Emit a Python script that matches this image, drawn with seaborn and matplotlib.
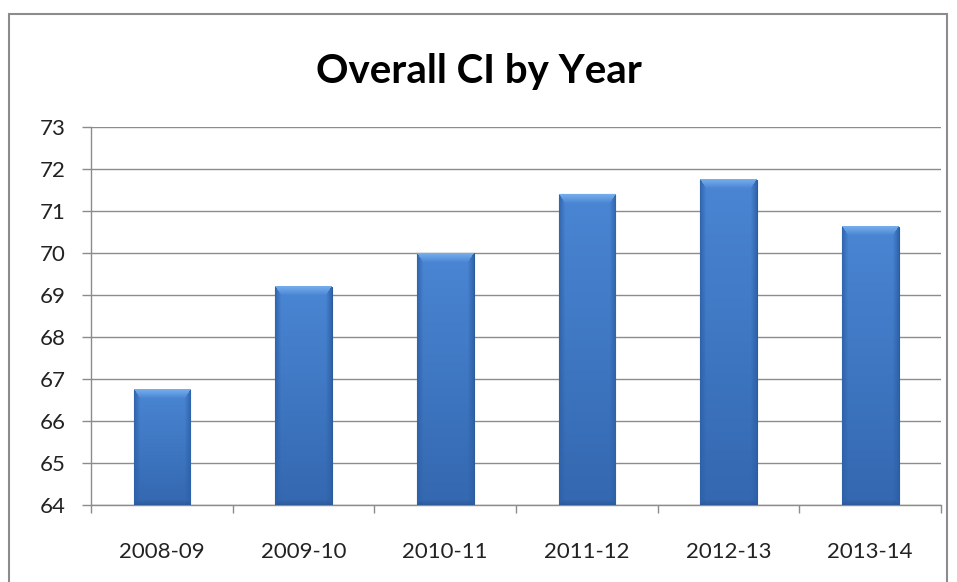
import numpy as np
import pandas as pd
import matplotlib
matplotlib.use("Agg")
import matplotlib.pyplot as plt
import seaborn as sns
from matplotlib.patches import Rectangle
from matplotlib.colors import to_rgb

years = ["2008-09", "2009-10", "2010-11", "2011-12", "2012-13", "2013-14"]
ci_values = [66.74, 69.2, 70.0, 71.4, 71.75, 70.62]
y_ticks = [64, 65, 66, 67, 68, 69, 70, 71, 72, 73]
title = "Overall CI by Year"

sns.set_theme(style="white")
plt.rcParams['font.family'] = ['Lato', 'DejaVu Sans']

df = pd.DataFrame({"year": years, "ci": ci_values})

fig = plt.figure(figsize=(9.57, 5.82), dpi=100)
ax = fig.add_axes([91/957, 1 - 505/582, (941 - 91)/957, (505 - 127)/582])

sns.barplot(data=df, x="year", y="ci", ax=ax, width=0.4, color="#3F7AC6",
            saturation=1, edgecolor="#2E5C99", linewidth=0.8, zorder=3)

ymin, ymax = 64, 73
ax.set_ylim(ymin, ymax)
ax.set_xlim(-0.5, len(years) - 0.5)


def bevel_image(wpx, hpx):
    top_c = np.array(to_rgb("#4A86D4"))
    bot_c = np.array(to_rgb("#3468B0"))
    t = np.linspace(0, 1, hpx).reshape(-1, 1, 1)
    img = top_c * (1 - t) + bot_c * t
    img = np.repeat(img, wpx, axis=1)
    rr, cc = np.mgrid[0:hpx, 0:wpx]
    side = 6
    topb = 9
    botb = 6
    light = np.array(to_rgb("#7DB3F0"))
    dark_side = np.array(to_rgb("#2C5FA6"))
    dark_bot = np.array(to_rgb("#2A5590"))
    left = (cc < side) & (rr >= cc * topb / side)
    right = (cc >= wpx - side) & (rr >= (wpx - 1 - cc) * topb / side)
    f = np.clip(1 - np.minimum(cc, wpx - 1 - cc) / side, 0, 1)[..., None] * 0.8
    m = (left | right)[..., None]
    img = np.where(m, img * (1 - f) + dark_side * f, img)
    topm = (rr < topb) & (cc >= rr * side / topb) & (cc <= wpx - 1 - rr * side / topb)
    ft = (1 - rr / topb)[..., None] * 0.85
    img = np.where(topm[..., None], img * (1 - ft) + light * ft, img)
    botm = (rr >= hpx - botb) & (cc >= (hpx - 1 - rr) * side / botb) & (cc <= wpx - 1 - (hpx - 1 - rr) * side / botb)
    fb = np.clip((rr - (hpx - botb)) / botb, 0, 1)[..., None] * 0.7
    img = np.where(botm[..., None], img * (1 - fb) + dark_bot * fb, img)
    return np.clip(img, 0, 1)


px_per_x = (941 - 91) / len(years)
px_per_y = (505 - 127) / (ymax - ymin)
for p in list(ax.patches):
    x0, w = p.get_x(), p.get_width()
    top = p.get_y() + p.get_height()
    bottom = max(p.get_y(), ymin)
    wpx = max(int(round(w * px_per_x)), 4)
    hpx = max(int(round((top - bottom) * px_per_y)), 4)
    ax.imshow(bevel_image(wpx, hpx), aspect="auto", interpolation="bilinear",
              extent=[x0, x0 + w, bottom, top], zorder=3.5)

ax.set_xlim(-0.5, len(years) - 0.5)
ax.set_ylim(ymin, ymax)
ax.set_yticks(y_ticks)
ax.set_yticklabels([str(t) for t in y_ticks])
ax.set_xlabel("")
ax.set_ylabel("")

ax.yaxis.grid(True, color="#8C8C8C", linewidth=1.0, zorder=0)
ax.set_axisbelow(True)
for s in ["top", "right"]:
    ax.spines[s].set_visible(False)
for s in ["left", "bottom"]:
    ax.spines[s].set_color("#8C8C8C")
    ax.spines[s].set_linewidth(1.0)

ax.tick_params(axis="y", which="both", left=True, length=6.5, width=1.0,
               color="#8C8C8C", pad=12, labelsize=16, labelcolor="#222222")
ax.set_xticks(np.arange(len(years)))
ax.set_xticklabels(years)
ax.tick_params(axis="x", which="major", bottom=False, pad=21, labelsize=16, labelcolor="#222222")
ax.set_xticks(np.arange(len(years) + 1) - 0.5, minor=True)
ax.tick_params(axis="x", which="minor", bottom=True, length=6, width=1.0, color="#8C8C8C")

fig.text(0.5, 1 - 71/582, title, ha="center", va="center",
         fontsize=29, fontweight="bold", color="black")

fig.patches.append(Rectangle((9/957, -0.02), (947 - 9)/957, (582 - 14)/582 + 0.02,
                             transform=fig.transFigure, fill=False,
                             edgecolor="#8C8C8C", linewidth=1.5))

fig.savefig("out.png", dpi=100)
